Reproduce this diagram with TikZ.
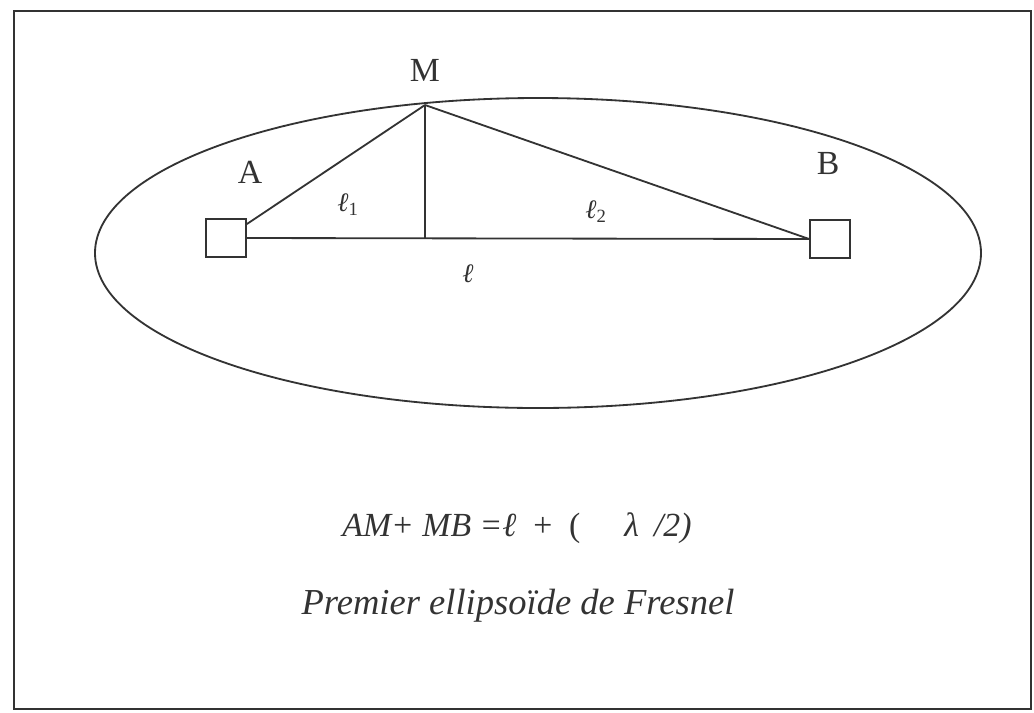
\documentclass[tikz,border=0pt]{standalone}
\usepackage{fontspec}
\setmainfont{Liberation Serif}
\begin{document}
\begin{tikzpicture}[x=0.025cm, y=-0.025cm, line width=1.3pt, color=black!80,
  station/.style={draw, minimum width=1cm, minimum height=0.93cm, inner sep=0pt},
  lbl/.style={font=\fontsize{24}{28}\selectfont},
  dist/.style={font=\fontsize{19}{22}\selectfont\itshape, inner sep=0pt}]
\useasboundingbox (0,0) rectangle (1034,712);
\draw (14,11) rectangle (1031,709);
\draw (538,253) ellipse [x radius=443, y radius=155];
\node[station] (a) at (226,238) {};
\node[station] (b) at (830,239) {};
\coordinate (m) at (425,105);
\coordinate (h) at (m |- a.east);
\node[lbl] (lm) at (425,70) {M};
\node[lbl] (la) at (250,172) {A};
\node[lbl] (lb) at (828,163) {B};
\node[dist] (l1) at (348,205) {ℓ\textsubscript{\upshape 1}};
\node[dist] (l2) at (596,212) {ℓ\textsubscript{\upshape 2}};
\node[dist] (l) at (468,274) {ℓ};
\draw (a) -- (m);
\draw (m) -- (b.west);
\draw (a.east) -- (b.west);
\draw (m) -- (h);
\node[lbl] (eq) at (517,528) {\textit{AM+ MB =ℓ}\hspace{0.5em}+\hspace{0.5em}(\hspace{1.3em}\textit{λ\hspace{0.45em}/2)}};
\node[lbl, font=\fontsize{26}{30}\selectfont\itshape] (cap) at (518,606) {Premier ellipsoïde de Fresnel};
\end{tikzpicture}
\end{document}
